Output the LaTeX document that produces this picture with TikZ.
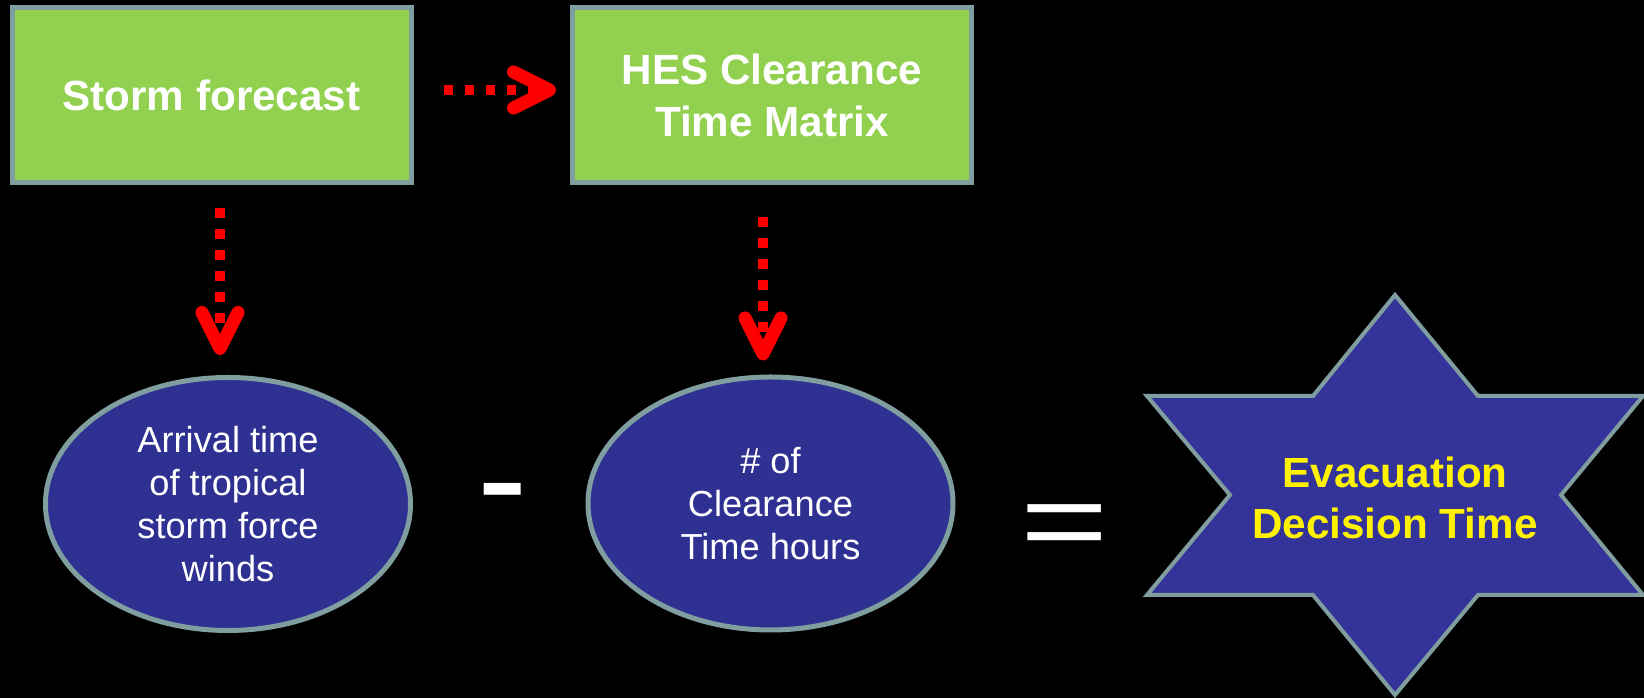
\documentclass[tikz,border=0pt]{standalone}
\usepackage{fontspec}
\usepackage{graphicx}
\setmainfont{Liberation Sans}
\usetikzlibrary{arrows.meta,calc,shapes.geometric}

\newlength{\du}
\setlength{\du}{0.01cm}

\definecolor{boxgreen}{rgb}{0.572549, 0.815686, 0.313725}
\definecolor{rimgray}{rgb}{0.501961, 0.619608, 0.627451}
\definecolor{ovalblue}{rgb}{0.180392, 0.192157, 0.572549}
\definecolor{starblue}{rgb}{0.200000, 0.200000, 0.600000}

\tikzset{
  forecastbox/.style={rectangle, draw=rimgray, fill=boxgreen, line width=5\du,
    minimum width=399\du, minimum height=175\du, inner sep=0pt, text=white,
    align=center, font=\bfseries\fontsize{12}{14.9}\selectfont},
  timeoval/.style={ellipse, draw=rimgray, fill=ovalblue, line width=5\du,
    minimum width=365\du, minimum height=253\du, inner sep=0pt, text=white,
    align=center, font=\fontsize{10.3}{12.3}\selectfont},
  dotarrow/.style={draw=red, line width=9.5\du, dash pattern=on 9.5\du off 11.5\du,
    -{Straight Barb[length=0.36cm, width=0.36cm, line width=0.13cm, round]}},
  opsign/.style={text=white, inner sep=0pt, anchor=base, font=\fontsize{43}{43}\selectfont},
}

\begin{document}
\begin{tikzpicture}
\pgftransformyscale{-1.000000}
\useasboundingbox (0\du,0\du) rectangle (1644\du,698\du);
\fill[black] (0\du,0\du) rectangle (1644\du,698\du);

% boxes
\node[forecastbox] (forecast) at (211.5\du,95.5\du) {Storm forecast};
\node[forecastbox] (matrix) at (772\du,95.5\du) {HES Clearance\\Time Matrix};

% ovals
\node[timeoval] (arrival) at (228\du,504\du) {Arrival time\\of tropical\\storm force\\winds};
\node[timeoval] (clearance) at (770.5\du,503.5\du) {\# of\\Clearance\\Time hours};

\node[opsign] (minus) at (503\du,530\du) {-};
\node[opsign] (equals) at (1065\du,560\du) {\scalebox{1}[0.74]{=}};

% star
\draw[draw=rimgray, fill=starblue, line width=4\du, line join=miter]
  (1395\du,295\du)--(1478\du,396\du)--(1643\du,396\du)--(1561\du,495\du)
  --(1643\du,595\du)--(1478\du,595\du)--(1395\du,695\du)--(1313\du,595\du)
  --(1147\du,595\du)--(1230\du,495\du)--(1147\du,396\du)--(1313\du,396\du)--cycle;
\node[text=yellow, align=center, font=\bfseries\fontsize{12}{14.6}\selectfont]
  (decision) at (1395\du,498\du) {Evacuation\\Decision Time};

% arrows
\draw[dotarrow, shorten <=30\du, shorten >=14\du]
  ($(forecast.east)+(0,-5.5\du)$) -- ($(matrix.west)+(0,-5.5\du)$);
\draw[dotarrow, shorten <=23\du, shorten >=20\du]
  ($(forecast.south)+(8.5\du,0)$) -- ($(arrival.north)+(-8\du,0)$);
\draw[dotarrow, shorten <=32\du, shorten >=14\du]
  ($(matrix.south)+(-9\du,0)$) -- ($(clearance.north)+(-7.5\du,0)$);
\end{tikzpicture}
\end{document}
